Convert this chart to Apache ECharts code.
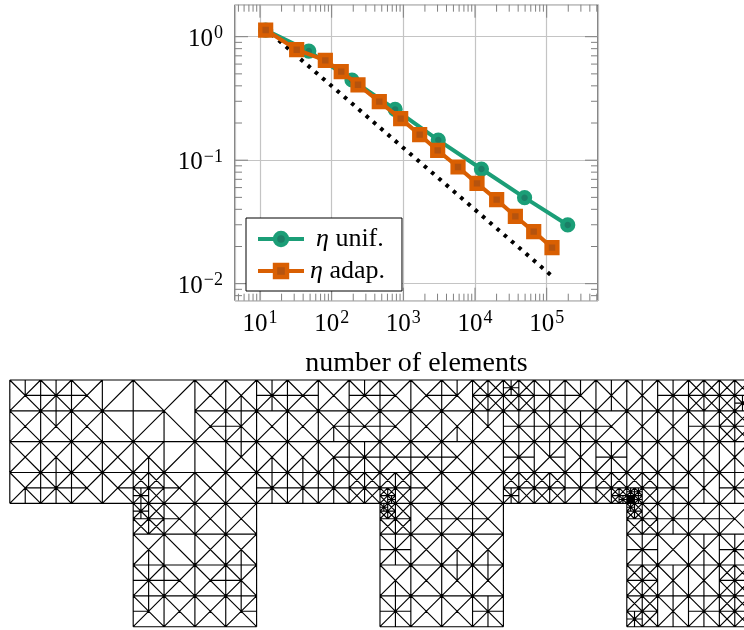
<!DOCTYPE html>
<html><head><meta charset="utf-8">
<style>html,body{margin:0;padding:0;background:#fff}#c{width:744px;height:630px}</style>
<script src="https://cdn.jsdelivr.net/npm/echarts@6/dist/echarts.min.js"></script>
</head><body><div id="c"></div>
<script>
// ---- convergence data ----
const unifX = [12,48,192,768,3072,12288,49152,196608];
const unifY = [1.132,0.765,0.446,0.258,0.1456,0.0848,0.0497,0.0299];
const adapX = [12,32.5,81.6,136,233,462,918,1690,3013,5794,10660,20050,36560,65900,118600];
const adapY = [1.132,0.785,0.643,0.521,0.408,0.298,0.217,0.161,0.120,0.0881,0.0649,0.0479,0.0351,0.0264,0.0196];
const refX = [12,116000];
const refY = [1.153,0.01165];
const xMajor = [10,100,1000,10000,100000];
const yMajor = [0.01,0.1,1];
const xMinor = [5,6,7,8,9,20,30,40,50,60,70,80,90,200,300,400,500,600,700,800,900,2000,3000,4000,5000,6000,7000,8000,9000,20000,30000,40000,50000,60000,70000,80000,90000,200000,300000,400000,500000];
const yMinor = [0.008,0.009,0.02,0.03,0.04,0.05,0.06,0.07,0.08,0.09,0.2,0.3,0.4,0.5,0.6,0.7,0.8,0.9];
const xRange = [4.48,520000];
const yRange = [0.00728,1.816];
// ---- mesh data: one token per coarse cell ----
// D/A diagonals, X both, t r b l half-lines from centre, * = X+trbl, ( tl tr bl br ) = subdivide
const meshTop = [
 "Xtr Xtrbl Xl A D A X Xb * Xlr X Xtrl Xl Xr Xtl (X X X X) (* X X X) * Xtl Xtb Xtb * (X X X X) (X X X *)",
 "X Xt X D A D Xr Xltb X X Xrb Xlr Xl X Xb Xt * * * Xl Xtb Xtb * (X X X X)",
 "X Xb X X Xb A D Xt Xb Xb Xrb * Xlr Xlr Xl X * Xrt Xtb * Xtb Xtb Xtb Xtb",
 "Xbr Xtblr Xl Xr (X X * X) Xl X X * * * (X X X X) (X X (X X X *) X) Xl X X (X X * X) (X X X X) * (X X X (X X X *)) (X X (* * (* * * *) *) X) * Xtb *"
];
const meshLegs = {
 4:["(* X X X) Xl X X","Xb D X Xb","* Xl Xr Xltb","Xtl X X Xtr"],
 12:["((* X X X) X X X) Xr Xlr Xl","* X Xb Xb","Xb X Xt Xt","* X X *"],
 20:["((* X X X) X X X) * Xlr Xl","* X Xtb *","(X X X X) Xtb Xtb (X X X X)","(X X * X) Xtb * (X X X X)"]
};
const meshOmitH = [[1,5]];
const meshOmitV = [[5,0]];
const meshCols = 24, meshRows = 8;

function parseCells(s){
  const tk = s.replace(/\(/g," ( ").replace(/\)/g," ) ").trim().split(/\s+/);
  let i=0;
  function cell(){ const t=tk[i++]; if(t==="("){const k=[];while(tk[i]!==")")k.push(cell());i++;return k;} return t; }
  const out=[]; while(i<tk.length) out.push(cell()); return out;
}
const seg=[];
function add(a,b,c,d){ seg.push([a,b],[c,d],['-','-']); }
function drawCell(t,x,y,s){
  const m=s/2;
  if(Array.isArray(t)){
    add(x+m,y,x+m,y+s); add(x,y+m,x+s,y+m);
    t.forEach((k,n)=>drawCell(k,x+(n%2)*m,y+(n>>1)*m,m));
    return;
  }
  if(t==="*") t="Xtrbl";
  for(const ch of t){
    if(ch==="X"||ch==="D") add(x,y,x+s,y+s);
    if(ch==="X"||ch==="A") add(x+s,y,x,y+s);
    if(ch==="t") add(x+m,y,x+m,y+m);
    if(ch==="b") add(x+m,y+m,x+m,y+s);
    if(ch==="l") add(x,y+m,x+m,y+m);
    if(ch==="r") add(x+m,y+m,x+s,y+m);
  }
}
const present={};
meshTop.forEach((r,j)=>parseCells(r).forEach((t,c)=>{present[c+","+j]=1;drawCell(t,c,j,1);}));
for(const c0 in meshLegs) meshLegs[c0].forEach((r,j)=>parseCells(r).forEach((t,c)=>{present[(+c0+c)+","+(j+4)]=1;drawCell(t,+c0+c,j+4,1);}));
const omitH=new Set(meshOmitH.map(a=>a.join())), omitV=new Set(meshOmitV.map(a=>a.join()));
for(let j=0;j<=meshRows;j++)for(let c=0;c<meshCols;c++)
  if((present[c+","+j]||present[c+","+(j-1)])&&!omitH.has(j+","+c)) add(c,j,c+1,j);
for(let c=0;c<=meshCols;c++)for(let j=0;j<meshRows;j++)
  if((present[c+","+j]||present[(c-1)+","+j])&&!omitV.has(c+","+j)) add(c,j,c,j+1);

const zip=(a,b)=>a.map((v,i)=>[v,b[i]]);
const font='"Liberation Serif",serif';
const isPow=v=>Math.abs(Math.log10(v)-Math.round(Math.log10(v)))<1e-6;
const sup=v=>{const e=Math.round(Math.log10(v));return '{b|10}{s|'+String(e).replace('-','\u2212')+'}';};
const richLab={b:{fontFamily:font,fontSize:25,color:'#000'},s:{fontFamily:font,fontSize:18,color:'#000',padding:[0,0,11,1]}};
const tickLine=(x1,y1,x2,y2)=>({type:'line',shape:{x1,y1,x2,y2},style:{stroke:'#808080',lineWidth:1}});
function xTicks(arr,len,name){return {type:'custom',name,coordinateSystem:'cartesian2d',xAxisIndex:0,yAxisIndex:0,silent:true,clip:false,
  data:arr.map(v=>[v]),encode:{x:0},renderItem:(p,api)=>{const a=api.coord([api.value(0),yRange[0]]),b=api.coord([api.value(0),yRange[1]]);
  return {type:'group',children:[tickLine(a[0],a[1],a[0],a[1]-len),tickLine(b[0],b[1],b[0],b[1]+len)]};}};}
function yTicks(arr,len,name){return {type:'custom',name,coordinateSystem:'cartesian2d',xAxisIndex:0,yAxisIndex:0,silent:true,clip:false,
  data:arr.map(v=>[xRange[0],v]),encode:{y:1},renderItem:(p,api)=>{const a=api.coord([xRange[0],api.value(1)]),b=api.coord([xRange[1],api.value(1)]);
  return {type:'group',children:[tickLine(a[0],a[1],a[0]+len,a[1]),tickLine(b[0],b[1],b[0]-len,b[1])]};}};}

const chart=echarts.init(document.getElementById('c'),null,{renderer:'canvas'});
const gridLine={show:true,lineStyle:{color:'#c4c4c4',width:1.2}};
const cellPx=30.85, meshLeft=9.8, meshVisibleCols=(744-meshLeft)/cellPx;
chart.setOption({
  animation:false,backgroundColor:'#fff',
  grid:[{left:235,top:4.7,width:363,height:296,show:true,borderColor:'#000',borderWidth:1,backgroundColor:'transparent'},
        {left:meshLeft,top:380,width:744-meshLeft,height:246.7}],
  xAxis:[{type:'log',gridIndex:0,min:xRange[0],max:xRange[1],logBase:10,splitNumber:6,
          axisLine:{show:false},axisTick:{show:false},splitLine:gridLine,minorTick:{show:false},
          axisLabel:{margin:9,showMinLabel:true,showMaxLabel:true,formatter:v=>isPow(v)?sup(v):'',rich:richLab},
          name:'number of elements',nameLocation:'middle',nameGap:49,nameTextStyle:{fontFamily:font,fontSize:28,color:'#000'}},
         {type:'value',gridIndex:1,min:0,max:meshVisibleCols,show:false}],
  yAxis:[{type:'log',gridIndex:0,min:yRange[0],max:yRange[1],logBase:10,splitNumber:4,
          axisLine:{show:false},axisTick:{show:false},splitLine:gridLine,minorTick:{show:false},
          axisLabel:{margin:12,showMinLabel:true,showMaxLabel:true,formatter:v=>isPow(v)?sup(v):'',rich:{b:Object.assign({},richLab.b,{padding:[5,0,0,0]}),s:Object.assign({},richLab.s,{padding:[0,0,6,1]})}}},
         {type:'value',gridIndex:1,min:0,max:8,inverse:true,show:false}],
  legend:{left:246,top:218,orient:'vertical',data:['unif','adap'],itemWidth:46,itemHeight:15,itemGap:6,
    backgroundColor:'#fff',borderColor:'#000',borderWidth:1,padding:[8,17,7,10],z:10,
    lineStyle:{width:4},itemStyle:{borderWidth:4.4},
    formatter:n=>n==='unif'?'{p|}{a|\u03b7}{b| unif.}':'{q|}{a|\u03b7}{b| adap.}',
    textStyle:{lineHeight:24,rich:{p:{width:7,lineHeight:24},q:{width:1,lineHeight:24},a:{fontFamily:font,fontStyle:'italic',fontSize:26,lineHeight:24,color:'#000'},b:{fontFamily:font,fontSize:26,lineHeight:24,color:'#000'}}}},
  tooltip:{show:false},
  series:[
    xTicks(xMinor,7,'xminor'),xTicks(xMajor,13,'xmajor'),yTicks(yMinor,7,'yminor'),yTicks(yMajor,13,'ymajor'),
    {type:'line',name:'ref',data:zip(refX,refY),showSymbol:false,clip:true,lineStyle:{color:'#000',width:4,type:[3.6,6],dashOffset:2},z:3},
    {type:'line',name:'unif',data:zip(unifX,unifY),symbol:'circle',symbolSize:10.8,lineStyle:{color:'#1b9e77',width:4},
      itemStyle:{color:'#1b7f66',borderColor:'#1b9e77',borderWidth:4.4},z:4},
    {type:'line',name:'adap',data:zip(adapX,adapY),symbol:'rect',symbolSize:10.8,lineStyle:{color:'#d95f02',width:4},
      itemStyle:{color:'#b5530e',borderColor:'#d95f02',borderWidth:4.4},z:5},
    {type:'line',name:'mesh',xAxisIndex:1,yAxisIndex:1,data:seg,showSymbol:false,clip:false,connectNulls:false,
      lineStyle:{color:'#000',width:1.15},itemStyle:{opacity:0},silent:true,z:2}
  ]
});
</script></body></html>
